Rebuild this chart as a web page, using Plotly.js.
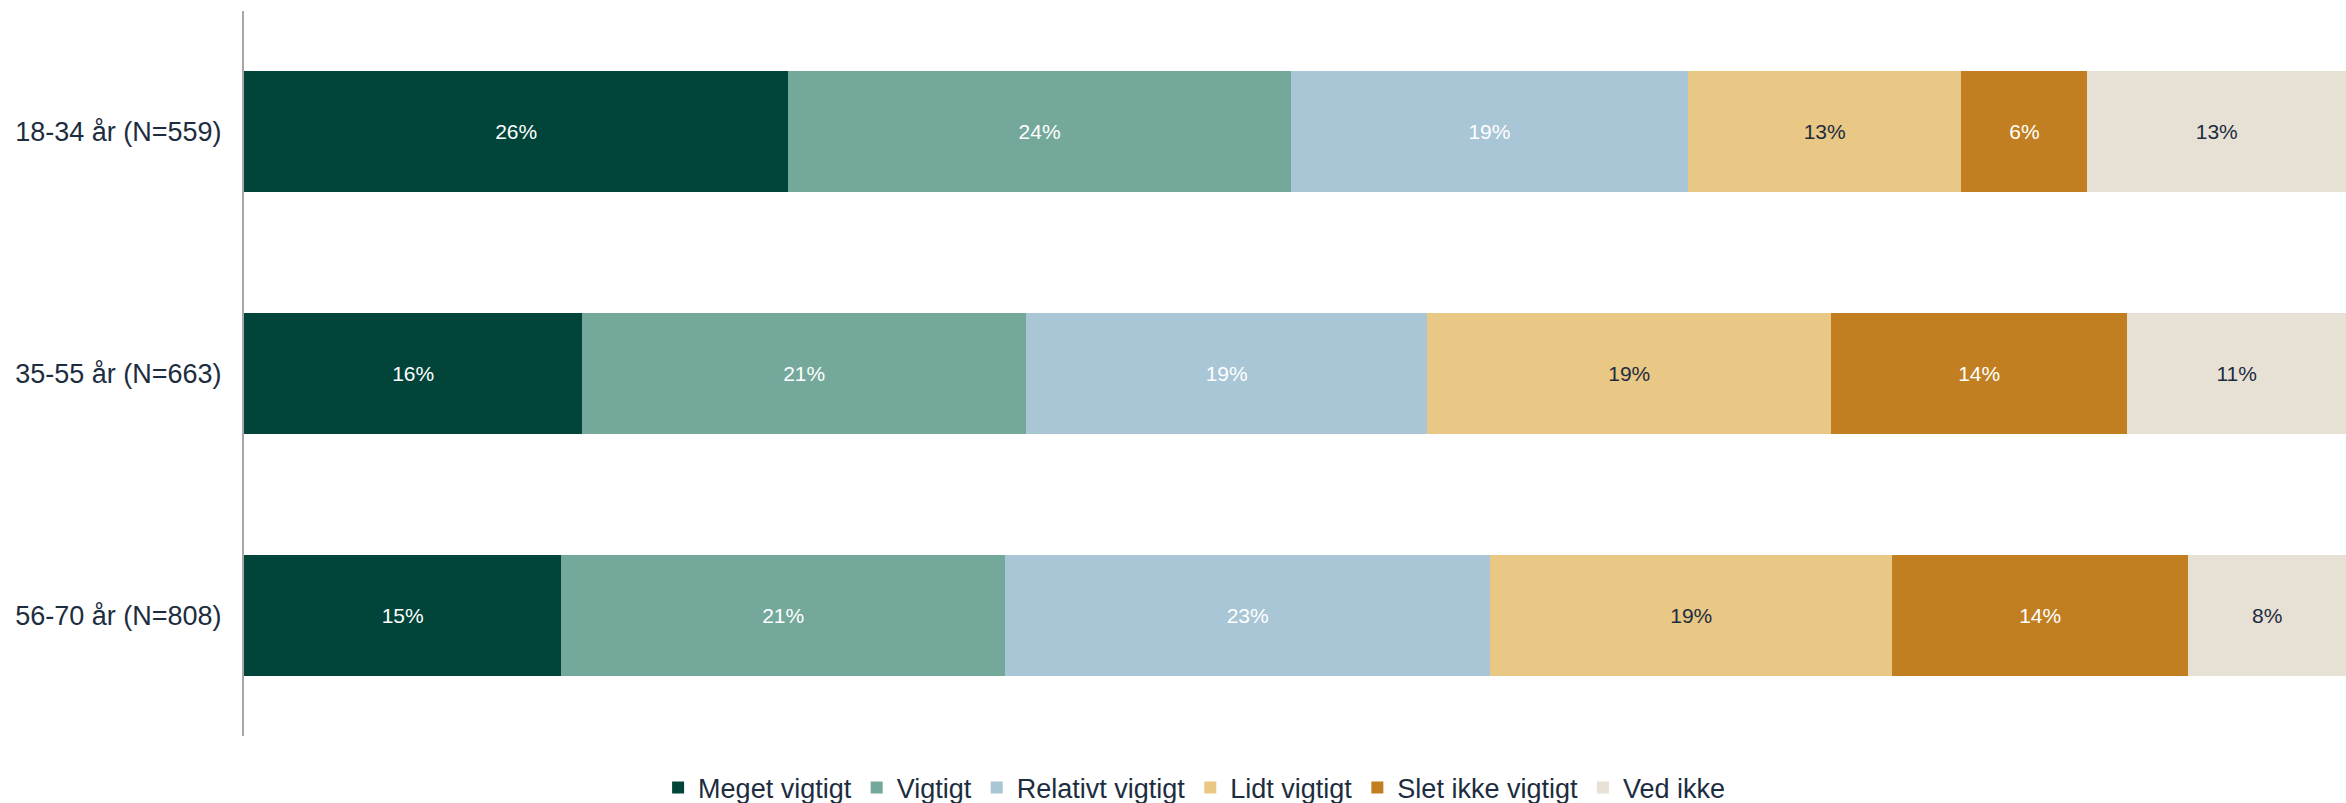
<!DOCTYPE html>
<html>
<head>
<meta charset="utf-8">
<script src="https://cdn.plot.ly/plotly-3.0.1.min.js"></script>
<style>html,body{margin:0;padding:0;background:#fff;}#chart{width:2346px;height:803px;}</style>
</head>
<body>
<div id="chart"></div>
<script>
const categories = ["18-34 år (N=559)", "35-55 år (N=663)", "56-70 år (N=808)"];
const seriesNames = ["Meget vigtigt", "Vigtigt", "Relativt vigtigt", "Lidt vigtigt", "Slet ikke vigtigt", "Ved ikke"];
const megetVigtigt   = [25.9, 16.1, 15.1];
const vigtigt        = [23.9, 21.1, 21.1];
const relativtVigtigt= [18.9, 19.1, 23.1];
const lidtVigtigt    = [13.0, 19.2, 19.1];
const sletIkke       = [6.0, 14.1, 14.1];
const vedIkke        = [12.3, 10.4, 7.5];
const labelsMeget    = ["26%", "16%", "15%"];
const labelsVigtigt  = ["24%", "21%", "21%"];
const labelsRelativt = ["19%", "19%", "23%"];
const labelsLidt     = ["13%", "19%", "19%"];
const labelsSlet     = ["6%", "14%", "14%"];
const labelsVed      = ["13%", "11%", "8%"];

const values = [megetVigtigt, vigtigt, relativtVigtigt, lidtVigtigt, sletIkke, vedIkke];
const labels = [labelsMeget, labelsVigtigt, labelsRelativt, labelsLidt, labelsSlet, labelsVed];
const colors = ["#00443A", "#74A89A", "#A8C6D6", "#E9C784", "#C17F21", "#E7E0D5"];
const textColors = ["#ffffff", "#ffffff", "#ffffff", "#1d2d40", "#ffffff", "#1d2d40"];

const traces = seriesNames.map((name, i) => ({
  type: "bar",
  orientation: "h",
  name: name,
  y: categories,
  x: values[i],
  text: labels[i],
  textposition: "inside",
  insidetextanchor: "middle",
  textangle: 0,
  constraintext: "none",
  textfont: {family: "Liberation Sans, Arial, sans-serif", size: 21, color: textColors[i]},
  marker: {color: colors[i], line: {width: 0}},
  hoverinfo: "skip"
}));

const layout = {
  width: 2346,
  height: 803,
  margin: {l: 244, r: 0, t: 11, b: 67, autoexpand: false},
  barmode: "stack",
  bargap: 0.5,
  paper_bgcolor: "#ffffff",
  plot_bgcolor: "#ffffff",
  font: {family: "Liberation Sans, Arial, sans-serif", color: "#1d2d40"},
  xaxis: {range: [0, 100], visible: false, showgrid: false, zeroline: false, fixedrange: true},
  yaxis: {
    type: "category",
    autorange: "reversed",
    showline: true,
    linecolor: "#a6a6a6",
    linewidth: 2,
    ticks: "",
    showgrid: false,
    zeroline: false,
    automargin: false,
    ticklabelstandoff: 15,
    tickfont: {family: "Liberation Sans, Arial, sans-serif", size: 27, color: "#1d2d40"}
  },
  showlegend: true,
  legend: {
    orientation: "h",
    x: 0.452,
    xanchor: "center",
    yref: "container",
    y: 0.0187,
    yanchor: "middle",
    traceorder: "normal",
    font: {family: "Liberation Sans, Arial, sans-serif", size: 27, color: "#1d2d40"},
    itemwidth: 30
  }
};

Plotly.newPlot("chart", traces, layout, {displayModeBar: false, staticPlot: true});
</script>
</body>
</html>
